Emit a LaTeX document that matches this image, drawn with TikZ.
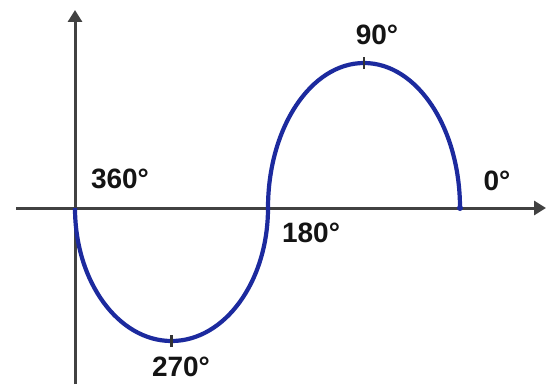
\documentclass[tikz,border=0pt]{standalone}
\usepackage{fontspec}
\setmainfont{Liberation Sans}
\usetikzlibrary{arrows.meta}
\definecolor{curveblue}{RGB}{28,42,158}
\definecolor{axisgray}{RGB}{65,65,65}
\definecolor{labelgray}{RGB}{20,20,20}
\tikzset{
  axisline/.style={draw=axisgray,line width=3pt,-{Triangle[width=14pt,length=12pt]}},
  wave/.style={draw=curveblue,line width=4.2pt},
  tickmark/.style={draw=black!80,line width=2.4pt},
  deglabel/.style={text=labelgray,font=\bfseries\fontsize{28}{32}\selectfont,inner sep=0pt}
}
\begin{document}
\begin{tikzpicture}[x=1pt,y=1pt]
\useasboundingbox (0,0) rectangle (546,384);
% axes
\coordinate (xstart) at (16,176);
\coordinate (xend) at (546,176);
\coordinate (ystart) at (75,0);
\coordinate (yend) at (75,374);
\draw[axisline] (xstart) -- (xend);
\draw[axisline] (ystart) -- (yend);
% wave
\coordinate (p360) at (75,176);
\coordinate (p180) at (268,176);
\coordinate (p0) at (460,176);
\coordinate (p270) at (171.5,43);
\coordinate (p90) at (364,321);
\draw[wave] (p360) arc[start angle=180,end angle=360,x radius=96.5pt,y radius=133pt];
\draw[wave] (p180) arc[start angle=180,end angle=0,x radius=96pt,y radius=145pt];
\fill[curveblue] (p0) circle[radius=3pt];
% tick marks
\draw[tickmark] ([yshift=-6pt]p270) -- ([yshift=6pt]p270);
\draw[tickmark] ([yshift=-6pt]p90) -- ([yshift=6pt]p90);
% labels
\node[deglabel] (l360) at (120,205) {360°};
\node[deglabel] (l180) at (311,151) {180°};
\node[deglabel] (l270) at (181,17) {270°};
\node[deglabel] (l90) at (377,349) {90°};
\node[deglabel] (l0) at (497,203) {0°};
\end{tikzpicture}
\end{document}
